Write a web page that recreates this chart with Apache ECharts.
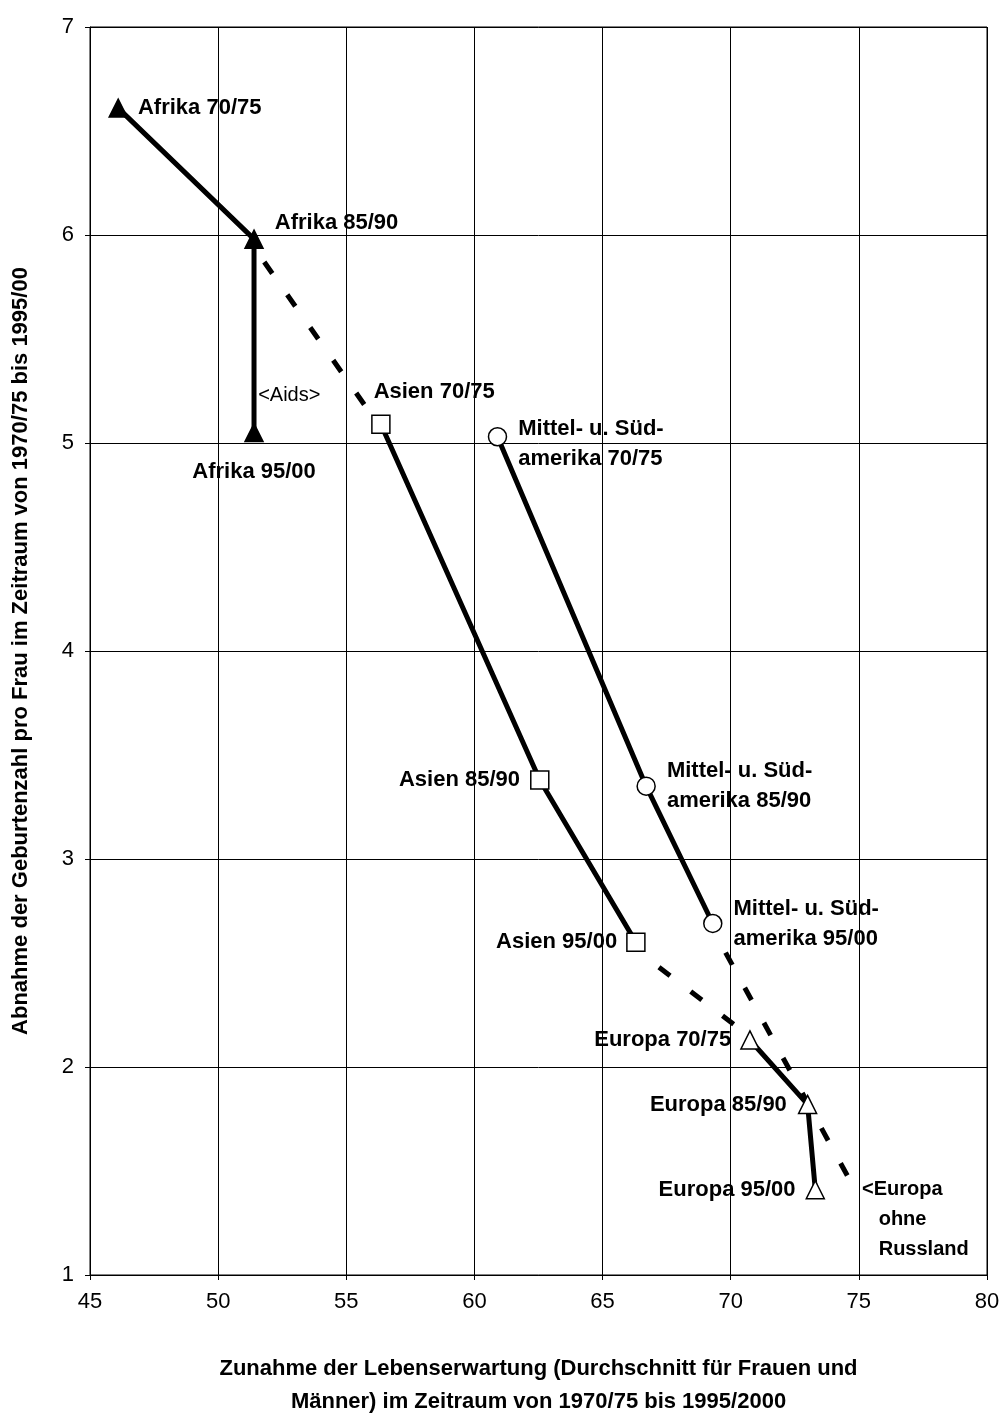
<!DOCTYPE html>
<html><head><meta charset="utf-8">
<script src="https://cdn.jsdelivr.net/npm/echarts@6/dist/echarts.min.js"></script>
<style>html,body{margin:0;background:#fff}#c{width:1006px;height:1418px}</style>
</head><body><div id="c"></div>
<script>
const afrika = [[46.1,6.61],[51.4,5.98],[51.4,5.05]];
const asien = [[56.35,5.09],[62.55,3.38],[66.3,2.6]];
const msa = [[60.9,5.03],[66.7,3.35],[69.3,2.69]];
const europa = [[70.75,2.13],[73.0,1.82],[73.3,1.41]];
const dash1 = [[51.8,5.87],[55.9,5.15]];
const dash2 = [[67.2,2.48],[70.6,2.16]];
const dash3 = [[69.8,2.55],[74.85,1.41]];
const labelsAfrika = ['Afrika 70/75','Afrika 85/90','Afrika 95/00'];
const labelsAsien = ['Asien 70/75','Asien 85/90','Asien 95/00'];
const labelsMsa = ['Mittel- u. Süd-\namerika 70/75','Mittel- u. Süd-\namerika 85/90','Mittel- u. Süd-\namerika 95/00'];
const labelsEuropa = ['Europa 70/75','Europa 85/90','Europa 95/00'];
const aidsPoint = [[51.6,5.23]];
const ohnePoint = [[74.85,1.41]];

const F = 'Liberation Sans, Arial, sans-serif';
const lblStyle = {
  afrika: [{position:'right',offset:[5,0]},{position:'right',offset:[6,-16]},{position:'bottom',offset:[0,10]}],
  asien: [{position:'right',offset:[-22,-32]},{position:'left',offset:[-5,0]},{position:'left',offset:[-4,0]}],
  msa: [{position:'right',offset:[6,7]},{position:'right',offset:[6,0]},{position:'right',offset:[6,0]}],
  europa: [{position:'left',offset:[-4,0]},{position:'left',offset:[-6,0]},{position:'left',offset:[-5,0]}]
};
function pts(arr, names, st){
  return arr.map((p,i)=>({value:p,label:Object.assign({show:true,formatter:names[i],fontFamily:F,fontWeight:'bold',fontSize:22,color:'#000',lineHeight:30,align:st[i].position==='left'?'right':(st[i].position==='bottom'?'center':'left')},st[i])}));
}
function lineSeries(data, names, st, symbol, filled){
  return {type:'line',data:pts(data,names,st),symbol:symbol,symbolSize:18,showSymbol:true,
    lineStyle:{color:'#000',width:5},
    itemStyle:{color:filled?'#000':'#fff',borderColor:'#000',borderWidth:1.5},z:3};
}
function dashSeries(d){
  return {type:'line',data:d,symbol:'none',lineStyle:{color:'#000',width:5,type:[14,26]},z:2};
}
const chart = echarts.init(document.getElementById('c'));
chart.setOption({
  animation:false,
  grid:{left:90,right:19,top:27,bottom:143,show:true,borderColor:'#000',borderWidth:1,outerBoundsMode:'none',containLabel:false},
  xAxis:{type:'value',min:45,max:80,interval:5,
    axisLine:{lineStyle:{color:'#000'}},axisTick:{show:true,lineStyle:{color:'#000'}},
    axisLabel:{fontFamily:F,fontSize:22,color:'#000',margin:16},
    splitLine:{lineStyle:{color:'#000',width:1}},
    name:'Zunahme der Lebenserwartung (Durchschnitt für Frauen und\nMänner) im Zeitraum von 1970/75 bis 1995/2000',
    nameLocation:'middle',nameGap:77,
    nameTextStyle:{fontFamily:F,fontSize:22,fontWeight:'bold',color:'#000',lineHeight:33}},
  yAxis:{type:'value',min:1,max:7,interval:1,
    axisLine:{lineStyle:{color:'#000'}},axisTick:{show:true,lineStyle:{color:'#000'}},
    axisLabel:{fontFamily:F,fontSize:22,color:'#000',margin:16},
    splitLine:{lineStyle:{color:'#000',width:1}},
    name:'Abnahme der Geburtenzahl pro Frau im Zeitraum von 1970/75 bis 1995/00',
    nameLocation:'middle',nameGap:58,
    nameTextStyle:{fontFamily:F,fontSize:22,fontWeight:'bold',color:'#000'}},
  series:[
    dashSeries(dash1),dashSeries(dash2),dashSeries(dash3),
    lineSeries(afrika,labelsAfrika,lblStyle.afrika,'triangle',true),
    lineSeries(asien,labelsAsien,lblStyle.asien,'rect',false),
    lineSeries(msa,labelsMsa,lblStyle.msa,'circle',false),
    lineSeries(europa,labelsEuropa,lblStyle.europa,'triangle',false),
    {type:'scatter',data:aidsPoint,symbol:'circle',symbolSize:0,itemStyle:{color:'#000',opacity:1},z:5,
      label:{show:true,formatter:'<Aids>',position:'right',offset:[-6,0],fontFamily:F,fontSize:20,color:'#000',opacity:1,align:'left'}},
    {type:'scatter',data:ohnePoint,symbol:'circle',symbolSize:0,itemStyle:{color:'#000',opacity:1},z:5,
      label:{show:true,formatter:'<Europa\n   ohne\n   Russland',position:'right',offset:[2,30],fontFamily:F,fontSize:20,fontWeight:'bold',color:'#000',opacity:1,lineHeight:30,align:'left'}}
  ]
});
</script></body></html>
